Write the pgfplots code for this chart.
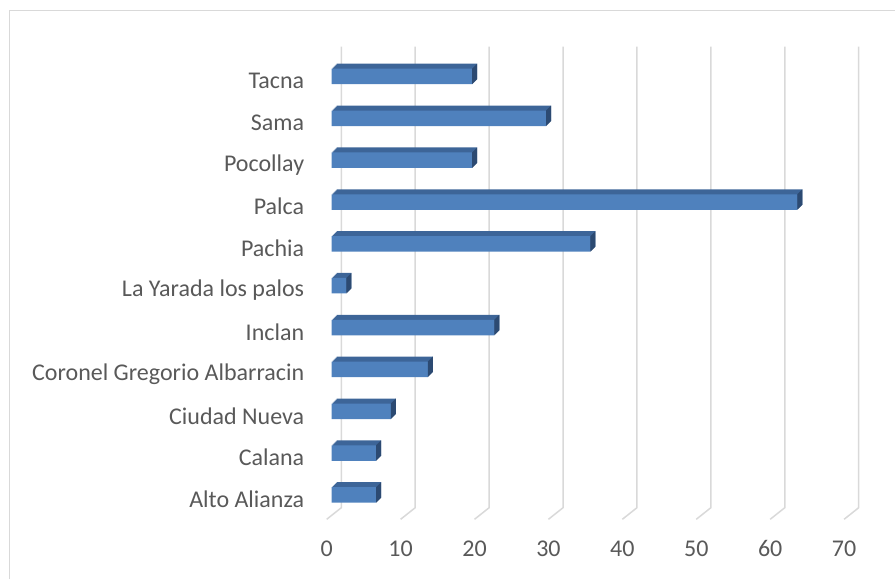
\documentclass[border=0pt]{standalone}
\usepackage{pgfplots}
\pgfplotsset{compat=1.18}
\usepackage{pgfplotstable}
\usepackage{fontspec}
\setmainfont{Carlito}
\definecolor{front}{HTML}{4F81BD}
\definecolor{topc}{HTML}{3D6598}
\definecolor{sidec}{HTML}{2C4A72}
\definecolor{gridc}{HTML}{D9D9D9}
\definecolor{txt}{HTML}{595959}
\pgfdeclareplotmark{sideface}{%
  \pgfpathmoveto{\pgfpoint{0pt}{-7.75pt}}%
  \pgfpathlineto{\pgfpoint{5pt}{-2.75pt}}%
  \pgfpathlineto{\pgfpoint{5pt}{12.75pt}}%
  \pgfpathlineto{\pgfpoint{0pt}{7.75pt}}%
  \pgfpathclose\pgfusepathqfill}
\pgfplotstableread{
y x
0 6
1 6
2 8
3 13
4 22
5 2
6 35
7 63
8 19
9 29
10 19
}\datatable
\begin{document}
\begin{tikzpicture}
\useasboundingbox (0pt,0pt) rectangle (895pt,579pt);
\draw[gridc, line width=1.5pt] (9.3pt,0pt) -- (9.3pt,568.3pt) -- (895pt,568.3pt);
% back wall with gridlines
\begin{axis}[at={(341.3pt,71.3pt)}, anchor=south west, scale only axis,
  width=517.4pt, height=461pt, xmin=0, xmax=70, ymin=0, ymax=1,
  hide axis, clip=false]
\pgfplotsinvokeforeach{0,10,...,70}{%
  \draw[gridc, line width=1.5pt] (axis cs:#1,1) -- (axis cs:#1,0) -- ++(-14.6pt,-11.6pt);}
\end{axis}
% bars
\begin{axis}[at={(331.7pt,63.1pt)}, anchor=south west, scale only axis,
  width=517.4pt, height=460.35pt, xmin=0, xmax=70, ymin=-0.5, ymax=10.5,
  bar width=15.5pt, axis line style={draw=none}, major tick length=0pt,
  xtick={0,10,...,70}, ytick={0,...,10},
  yticklabels={Alto Alianza, Calana, {Ciudad Nueva\ }, Coronel Gregorio Albarracin, Inclan, La Yarada los palos, Pachia, Palca, Pocollay, Sama, Tacna},
  tick label style={font=\fontsize{24}{28}\selectfont, text=txt},
  xticklabel style={anchor=center, xshift=-5pt, yshift=-33pt},
  yticklabel style={anchor=east, xshift=-24pt, yshift=-4.5pt},
  /pgf/number format/assume math mode=true, clip=false]
\pgfplotsinvokeforeach{1,2,3,4,5}{%
  \addplot[xbar, bar shift=0pt, draw=none, fill=topc, xshift=#1pt, yshift=#1pt] table[x=x,y=y]{\datatable};}
\addplot[xbar, bar shift=0pt, draw=none, fill=front] table[x=x,y=y]{\datatable};
\addplot[only marks, mark=sideface, color=sidec] table[x=x,y=y]{\datatable};
\end{axis}
\end{tikzpicture}
\end{document}
